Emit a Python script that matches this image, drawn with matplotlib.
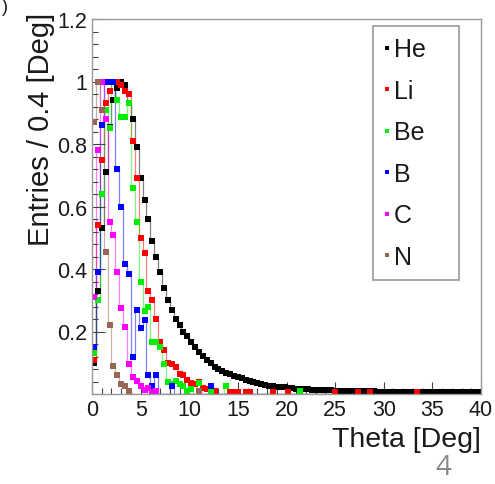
import numpy as np
import matplotlib
matplotlib.use("Agg")
import matplotlib.pyplot as plt
from matplotlib.lines import Line2D
from matplotlib.ticker import MultipleLocator

plt.rcParams['font.family'] = ['Liberation Sans', 'DejaVu Sans']

BIN_WIDTH = 0.4
N_BINS = 100

# Leading bin contents (bin centers 0.2, 0.6, 1.0, ...)
he = [0.10, 0.33, 0.53, 0.71, 0.855, 0.94, 0.98, 1.0, 0.99, 0.93,
      0.88, 0.79, 0.69, 0.62, 0.56, 0.49, 0.44, 0.39, 0.34, 0.30,
      0.27, 0.24, 0.22, 0.20, 0.185, 0.168, 0.15, 0.135, 0.122, 0.11,
      0.098, 0.088, 0.080, 0.074, 0.068, 0.063, 0.059, 0.054, 0.050, 0.046,
      0.042, 0.039, 0.036, 0.033, 0.030, 0.027, 0.025, 0.023, 0.022, 0.021,
      0.019, 0.018, 0.017, 0.016, 0.015, 0.015, 0.014, 0.014, 0.013, 0.013,
      0.012, 0.012, 0.011, 0.011, 0.011, 0.010, 0.010, 0.010, 0.009, 0.009,
      0.009, 0.009, 0.009, 0.008, 0.008, 0.008, 0.008, 0.008, 0.008, 0.007,
      0.007, 0.007, 0.007, 0.007, 0.007, 0.007, 0.006, 0.006, 0.006, 0.006,
      0.006, 0.006, 0.006, 0.006, 0.006, 0.005, 0.005, 0.005, 0.005, 0.005]
li = [0.11, 0.54, 0.75, 0.93, 0.97, 1.0, 1.0, 0.99, 0.97, 0.96,
      0.81, 0.69, 0.50, 0.45, 0.33, 0.30, 0.24, 0.165, 0.14, 0.10,
      0.096, 0.085, 0.064, 0.06, 0.045, 0.035, 0.032, 0.037, 0.02, 0.016,
      0.01, 0.01]
be = [0.13, 0.30, 0.64, 0.91, 0.85, 1.0, 0.94, 0.885, 0.885, 0.93,
      0.66, 0.55, 0.36, 0.265, 0.28, 0.165, 0.165, 0.15, 0.095, 0.04,
      0.032, 0.043, 0.032, 0.027, 0.01, 0.016, 0.0, 0.035]
b = [0.15, 0.39, 0.86, 1.0, 1.0, 1.0, 0.72, 0.60, 0.415, 0.385,
     0.12, 0.27, 0.21, 0.237, 0.06, 0.027, 0.06]
c = [0.31, 0.78, 1.0, 0.88, 0.55, 0.51, 0.39, 0.275, 0.215, 0.097,
     0.054, 0.042, 0.027, 0.014, 0.02, 0.008, 0.01]
n = [0.87, 1.0, 0.91, 0.455, 0.22, 0.09, 0.06, 0.032, 0.027, 0.01]

# Sparse tail entries: (theta bin center, content)
li_tail = [(14.2, 0.007), (14.6, 0.006), (15.0, 0.008), (15.8, 0.006),
           (16.2, 0.007), (18.6, 0.007), (20.2, 0.006), (25.0, 0.007),
           (27.4, 0.007), (28.6, 0.007), (33.4, 0.007)]
be_tail = [(12.2, 0.01), (13.8, 0.027), (21.4, 0.009)]
b_tail = [(8.2, 0.027), (12.4, 0.027)]
n_tail = [(11.0, 0.01)]

labels = ['He', 'Li', 'Be', 'B', 'C', 'N']
colors = ['black', '#ff0000', '#00ee00', '#0000ff', '#ff00ff', '#996655']


def build(lead, tail=()):
    arr = np.zeros(N_BINS)
    arr[:len(lead)] = lead
    for th, v in tail:
        arr[int(round((th - BIN_WIDTH / 2) / BIN_WIDTH))] = v
    return arr


series = [build(he), build(li, li_tail), build(be, be_tail),
          build(b, b_tail), build(c), build(n, n_tail)]

edges = np.arange(N_BINS + 1) * BIN_WIDTH
centers = edges[:-1] + BIN_WIDTH / 2

fig = plt.figure(figsize=(4.95, 4.85), dpi=100)
ax = fig.add_axes([92 / 495, 1 - 395 / 485, (481 - 92) / 495, (395 - 20) / 485])

for vals, col in zip(series, colors):
    ax.stairs(vals, edges, baseline=None, color=col, lw=0.9, alpha=0.5)
    m = np.where(vals > 0, vals, np.nan)
    ax.plot(centers, m, 's', color=col, ms=4.3, mew=0)

ax.set_xlim(0, 40)
ax.set_ylim(0, 1.2)
ax.xaxis.set_major_locator(MultipleLocator(5))
ax.xaxis.set_minor_locator(MultipleLocator(1))
ax.yaxis.set_minor_locator(MultipleLocator(0.04))
ax.set_yticks([0.2, 0.4, 0.6, 0.8, 1.0, 1.2])
ax.set_yticklabels(['0.2', '0.4', '0.6', '0.8', '1', '1.2'])
ax.tick_params(which='both', direction='in', labelsize=15.5, colors='#444444',
               labelcolor='#1a1a1a')
ax.tick_params(which='major', length=9, width=0.8)
ax.tick_params(which='minor', length=4.5, width=0.8)
for sp in ax.spines.values():
    sp.set_color('#999999')
    sp.set_linewidth(1.0)

ax.set_xlabel('Theta [Deg]', fontsize=20.5, loc='right', color='#1a1a1a')
ax.xaxis.label.set_va('center')
ax.xaxis.set_label_coords(1.0, -0.12)
ax.set_ylabel('Entries / 0.4 [Deg]', fontsize=21, loc='top', color='#1a1a1a')
ax.yaxis.set_label_coords(-0.095, 1.02)

handles = [Line2D([], [], marker='s', ms=2.8, mew=0, ls='none', color=col)
           for col in colors]
x0 = (373 - 92) / 389
w = (459 - 373) / 389
top = (395 - 27) / 375
leg = ax.legend(handles, labels, loc='upper left',
                bbox_to_anchor=(x0, 0.0, w, top), mode='expand',
                fontsize=18, frameon=True, fancybox=False, framealpha=1,
                edgecolor='#999999', labelspacing=0.7, handlelength=0.2,
                handletextpad=0.2, borderpad=0.45, borderaxespad=0)
leg.get_frame().set_linewidth(1.2)
for t in leg.get_texts():
    t.set_color('#1a1a1a')

fig.text(443 / 495, 1 - 468 / 485, '4', fontsize=20, color='#888888',
         ha='center', va='center', family=['Open Sans', 'DejaVu Sans'])
fig.text(0.004, 1 - 8 / 485, ')', fontsize=13, color='#1a1a1a',
         ha='left', va='center')

fig.savefig('out.png', dpi=100)
